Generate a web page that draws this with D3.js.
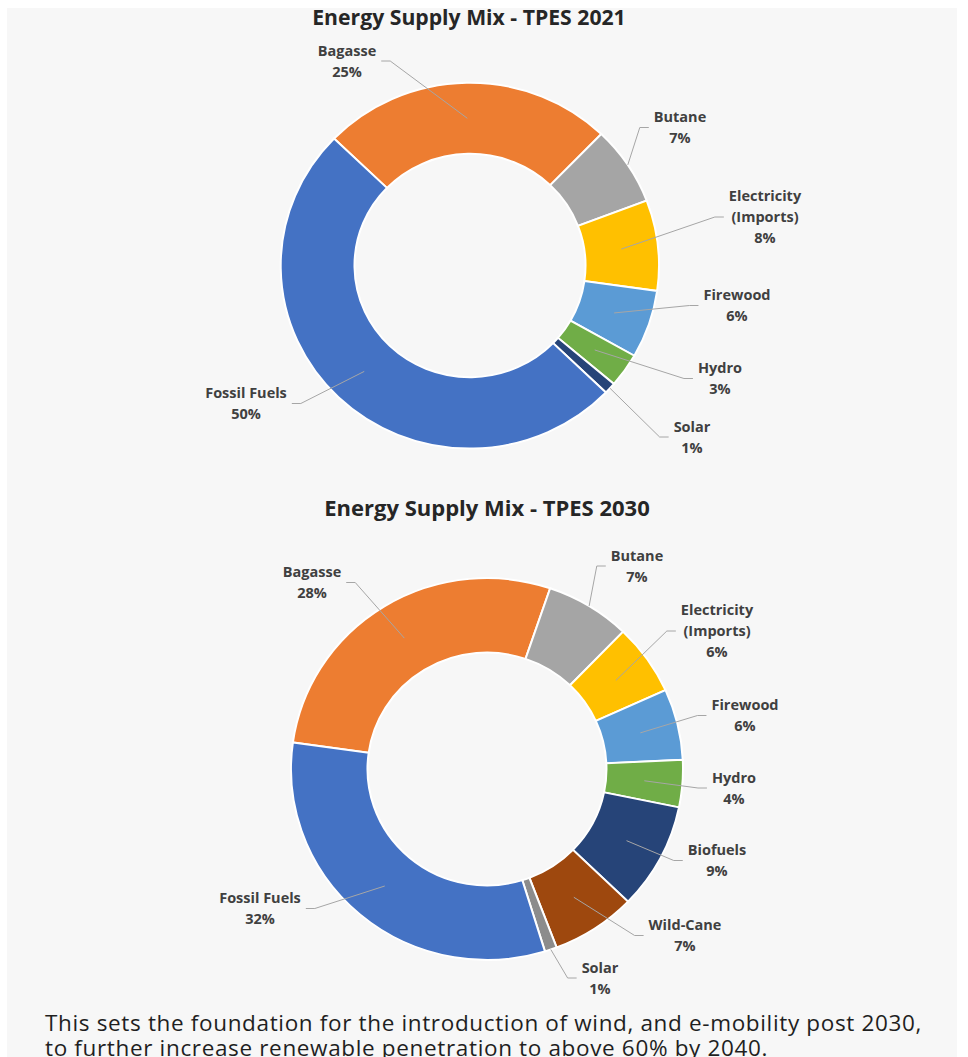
<!DOCTYPE html>
<html>
<head>
<meta charset="utf-8">
<script src="https://cdn.jsdelivr.net/npm/d3@7"></script>
<style>
  body { margin: 0; background: #ffffff; }
  svg { display: block; }
</style>
</head>
<body>
<svg id="chart" width="968" height="1057"></svg>
<script>
// ---- data ----
const categories2021 = ["Bagasse", "Butane", "Electricity (Imports)", "Firewood", "Hydro", "Solar", "Fossil Fuels"];
const values2021 = [25, 7, 8, 6, 3, 1, 50];
const colors2021 = ["#ED7D31", "#A5A5A5", "#FFC000", "#5B9BD5", "#70AD47", "#264478", "#4472C4"];

const categories2030 = ["Bagasse", "Butane", "Electricity (Imports)", "Firewood", "Hydro", "Biofuels", "Wild-Cane", "Solar", "Fossil Fuels"];
const values2030 = [28, 7, 6, 6, 4, 9, 7, 1, 32];
const colors2030 = ["#ED7D31", "#A5A5A5", "#FFC000", "#5B9BD5", "#70AD47", "#264478", "#9E480E", "#8C8C8C", "#4472C4"];

const titles = ["Energy Supply Mix - TPES 2021", "Energy Supply Mix - TPES 2030"];
const footerLines = [
  "This sets the foundation for the introduction of wind, and e-mobility post 2030,",
  "to further increase renewable penetration to above 60% by 2040."
];

// ---- layout ----
const W = 968, H = 1057;
const panelColor = "#f7f7f7";
const labelColor = "#404040";
const leaderColor = "#a6a6a6";

const charts = [
  {
    title: titles[0], titleX: 469, titleY: 25, titleSize: 21.2,
    categories: categories2021, values: values2021, colors: colors2021,
    cx: 470, cy: 265.5, outer: 189, inner: 115.5, squash: 0.967, start: -46,
    labels: [
      { x: 347, y: 61, side: "right" },
      { x: 680, y: 127.5, side: "left", edge: true },
      { x: 765, y: 217, side: "left" },
      { x: 737, y: 305.5, side: "left" },
      { x: 720, y: 378.5, side: "left" },
      { x: 692, y: 437, side: "left", edge: true },
      { x: 246, y: 403.5, side: "right" }
    ]
  },
  {
    title: titles[1], titleX: 487, titleY: 516, titleSize: 22,
    categories: categories2030, values: values2030, colors: colors2030,
    cx: 487, cy: 769, outer: 196, inner: 119.5, squash: 0.974, start: -82,
    labels: [
      { x: 312, y: 582.5, side: "right" },
      { x: 637, y: 566, side: "left", edge: true },
      { x: 717, y: 631, side: "left" },
      { x: 745, y: 715.5, side: "left" },
      { x: 734, y: 788, side: "left" },
      { x: 717, y: 860.5, side: "left" },
      { x: 685, y: 935.5, side: "left" },
      { x: 600, y: 978, side: "left", edge: true },
      { x: 260, y: 908.5, side: "right" }
    ]
  }
];

const svg = d3.select("#chart");

// page panel
svg.append("rect").attr("width", W).attr("height", H).attr("fill", "#ffffff");
svg.append("rect").attr("x", 7).attr("y", 8).attr("width", 950).attr("height", H - 8).attr("fill", panelColor);

const labelFont = "'Open Sans', 'Noto Sans', sans-serif";
const lineGap = 21;

charts.forEach(ch => {
  // title
  svg.append("text")
    .attr("x", ch.titleX).attr("y", ch.titleY)
    .attr("text-anchor", "middle")
    .attr("font-family", labelFont)
    .attr("font-weight", 700)
    .attr("font-size", ch.titleSize)
    .attr("fill", "#262626")
    .text(ch.title);

  const startRad = ch.start * Math.PI / 180;
  const pie = d3.pie().sort(null).value(d => d)
    .startAngle(startRad).endAngle(startRad + 2 * Math.PI);
  const arcs = pie(ch.values);
  const arc = d3.arc().innerRadius(ch.inner).outerRadius(ch.outer);

  const g = svg.append("g")
    .attr("transform", `translate(${ch.cx},${ch.cy}) scale(1,${ch.squash})`);
  g.selectAll("path").data(arcs).join("path")
    .attr("d", arc)
    .attr("fill", (d, i) => ch.colors[i])
    .attr("stroke", "#ffffff")
    .attr("stroke-width", 2);

  // screen position of a point on the ring
  const ringPoint = (angle, r) => [ch.cx + r * Math.sin(angle), ch.cy - r * Math.cos(angle) * ch.squash];

  const labelLayer = svg.append("g");
  const leaderLayer = svg.insert("g", () => labelLayer.node());

  arcs.forEach((a, i) => {
    const lay = ch.labels[i];
    const name = ch.categories[i];
    const parts = name.includes(" (") ? [name.slice(0, name.indexOf(" (")), name.slice(name.indexOf(" (") + 1)] : [name];
    const lines = parts.concat([ch.values[i] + "%"]);
    const n = lines.length;

    const t = labelLayer.append("text")
      .attr("font-family", labelFont)
      .attr("font-weight", 700)
      .attr("font-size", 14.5)
      .attr("fill", labelColor)
      .attr("text-anchor", "middle");
    lines.forEach((ln, k) => {
      t.append("tspan")
        .attr("x", lay.x)
        .attr("y", lay.y + (k - (n - 1) / 2) * lineGap)
        .attr("dy", "0.35em")
        .text(ln);
    });
    const bb = t.node().getBBox();

    // leader line: short horizontal stub from the label, then into the slice
    const mid = (a.startAngle + a.endAngle) / 2;
    const r = lay.edge ? ch.outer : (ch.inner + ch.outer) / 2;
    const target = ringPoint(mid, r);
    const sx = lay.side === "right" ? bb.x + bb.width + 5 : bb.x - 5;
    const stub = lay.side === "right" ? sx + 9 : sx - 9;
    const sy = lay.y;
    leaderLayer.append("path")
      .attr("d", d3.line()([[sx, sy], [stub, sy], target]))
      .attr("fill", "none")
      .attr("stroke", leaderColor)
      .attr("stroke-width", 1);
  });
});

// footer note
const foot = svg.append("text")
  .attr("font-family", "'Open Sans', 'Noto Sans', sans-serif")
  .attr("font-size", 22.5)
  .attr("letter-spacing", 0.65)
  .attr("fill", "#1f1f1f");
footerLines.forEach((ln, k) => {
  foot.append("tspan").attr("x", 45).attr("y", 1031 + k * 25).text(ln);
});
</script>
</body>
</html>
